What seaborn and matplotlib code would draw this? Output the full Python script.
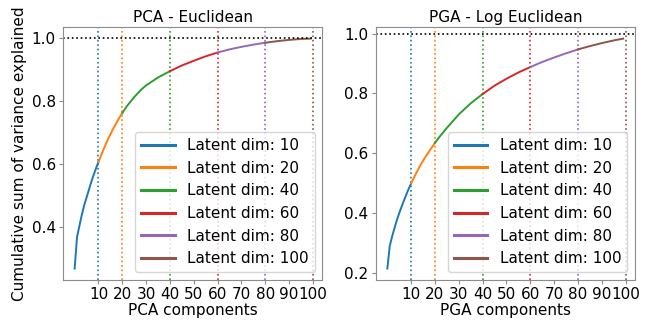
import matplotlib
matplotlib.use("Agg")
import matplotlib.pyplot as plt
import pandas as pd
import seaborn as sns

# latent dimensions marked on both panels
latent_dims = [10, 20, 40, 60, 80, 100]
xticks = [10, 20, 30, 40, 50, 60, 70, 80, 90, 100]

# component index where the cumulative variance was read
components = [0, 1, 2, 3, 4, 5, 6, 7, 8, 9, 10, 12, 14, 16, 18, 20, 22, 25, 28,
              30, 35, 40, 45, 50, 55, 60, 65, 70, 75, 80, 85, 90, 95, 99]

pca_cumvar = [0.27, 0.37, 0.405, 0.44, 0.47, 0.495, 0.52, 0.545, 0.567, 0.588, 0.608,
              0.645, 0.68, 0.71, 0.738, 0.763, 0.785, 0.813, 0.837, 0.85, 0.875,
              0.895, 0.913, 0.928, 0.942, 0.954, 0.964, 0.972, 0.979, 0.985, 0.99,
              0.994, 0.997, 0.998]

pga_cumvar = [0.215, 0.29, 0.322, 0.35, 0.377, 0.40, 0.422, 0.443, 0.463, 0.482, 0.50,
              0.532, 0.562, 0.588, 0.612, 0.635, 0.656, 0.685, 0.712, 0.73, 0.767,
              0.798, 0.826, 0.849, 0.87, 0.888, 0.905, 0.92, 0.934, 0.947, 0.958,
              0.968, 0.977, 0.983]

colors = sns.color_palette("tab10", len(latent_dims))
FS = 11


def draw_panel(ax, values, title, xlabel):
    df = pd.DataFrame({"x": components, "y": values})
    lo = 0
    for dim, col in zip(latent_dims, colors):
        seg = df[(df["x"] >= lo) & (df["x"] <= dim)]
        sns.lineplot(data=seg, x="x", y="y", color=col, lw=1.4,
                     label=f"Latent dim: {dim}", ax=ax)
        ax.axvline(dim, color=col, ls=":", lw=1.2)
        lo = dim
    ax.axhline(1.0, color="black", ls=":", lw=1.2)
    ax.set_xticks(xticks)
    ax.set_title(title, fontsize=FS, pad=4)
    ax.set_xlabel(xlabel, fontsize=FS, labelpad=1)
    ax.set_ylabel("")
    ax.tick_params(labelsize=FS, color="0.55", length=3, pad=2)
    for sp in ax.spines.values():
        sp.set_color("0.55")
    leg = ax.legend(loc="lower right", fontsize=FS, handlelength=2.2)
    for h in leg.get_lines():
        h.set_linewidth(2.2)


fig, axes = plt.subplots(1, 2, figsize=(6.48, 3.23), dpi=100)
draw_panel(axes[0], pca_cumvar, "PCA - Euclidean", "PCA components")
draw_panel(axes[1], pga_cumvar, "PGA - Log Euclidean", "PGA components")
axes[0].set_ylabel("Cumulative sum of variance explained", fontsize=FS, labelpad=3)

fig.subplots_adjust(left=0.097, right=0.98, top=0.916, bottom=0.133, wspace=0.205)
fig.savefig("out.png")
